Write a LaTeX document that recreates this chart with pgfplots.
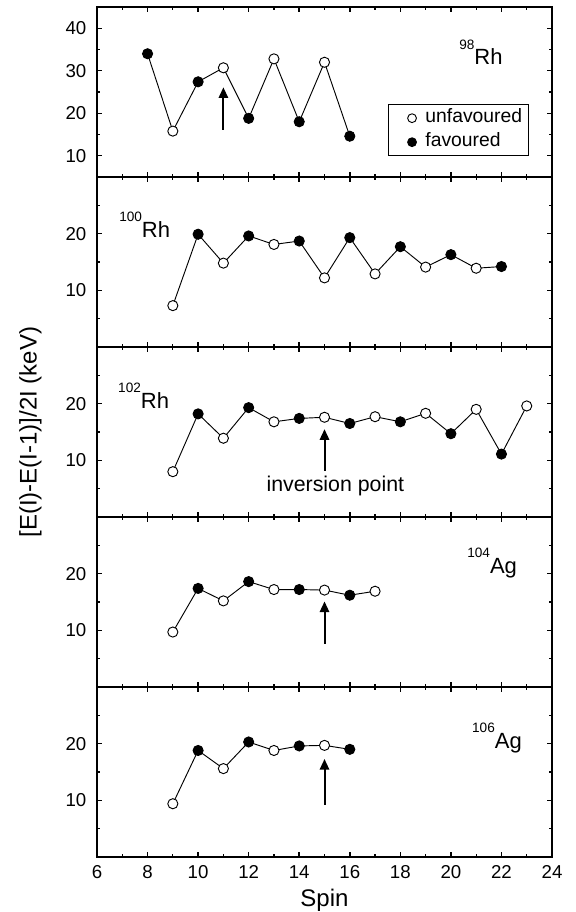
\documentclass[border=0pt]{standalone}
\usepackage{fontspec}
\setmainfont{Liberation Sans}
\usepackage{pgfplots}
\pgfplotsset{compat=1.18}
\usepgfplotslibrary{groupplots}
\usetikzlibrary{arrows.meta}

\newcommand{\iso}[2]{\raisebox{11.5pt}{\fontsize{10.2}{11}\selectfont #1}\fontsize{16.5}{18}\selectfont #2}

\tikzset{arr/.style={line width=1.5pt, -{Triangle[length=8pt,width=7pt]}}}

\pgfplotsset{
  panel/.style={
    width=341.25pt, height=127.5pt, scale only axis,
    xmin=6, xmax=24, xtick={6,8,...,24}, minor xtick={7,9,...,23},
    tick align=inside, major tick length=4pt, minor tick length=2.2pt,
    major tick style={line width=1.1pt, black},
    minor tick style={line width=0.9pt, black},
    axis line style={line width=1.4pt},
    tick label style={font=\fontsize{14}{16}\selectfont},
    xticklabel style={yshift=-3pt},
    yticklabel style={xshift=-4.5pt},
    /pgf/number format/assume math mode=true,
    clip=false,
  },
  conn/.style={black, line width=0.7pt, mark=none, forget plot},
  unf/.style={only marks, mark=*, mark size=3.8pt, mark options={fill=white, draw=black, line width=0.7pt}},
  fav/.style={only marks, mark=*, mark size=3.8pt, mark options={fill=black, draw=black, line width=0.7pt}},
}

\begin{document}
\begin{tikzpicture}
\begin{groupplot}[
  group style={group size=1 by 5, vertical sep=0pt, xticklabels at=edge bottom},
  panel,
]
% ---- 98Rh
\nextgroupplot[ymin=5, ymax=45, ytick={10,20,30,40}, minor ytick={15,25,35},
  legend style={at={(rel axis cs:0.95,0.124)}, anchor=south east, draw=black, line width=0.6pt,
    font=\fontsize{14.5}{16}\selectfont, inner xsep=5pt, inner ysep=1pt,
    nodes={text height=10.5pt, text depth=3.5pt, inner ysep=2pt, inner xsep=0pt},
    column sep=0pt},
  legend cell align=left,
  legend image code/.code={\path[draw=none, fill=none] (-12.55pt,-3.3pt) rectangle (10.05pt,3.3pt);
    \draw[#1, mark size=3.3pt] plot coordinates {(0pt,0pt)};},
]
\addplot[conn] coordinates {(8,34)(9,15.8)(10,27.4)(11,30.7)(12,18.8)(13,32.8)(14,18)(15,32)(16,14.6)};
\addplot[unf] coordinates {(9,15.8)(11,30.7)(13,32.8)(15,32)};
\addlegendentry{unfavoured}
\addplot[fav] coordinates {(8,34)(10,27.4)(12,18.8)(14,18)(16,14.6)};
\addlegendentry{favoured}
\draw[arr] (axis cs:11,16.1) -- (axis cs:11,26.1);
\node[anchor=base west, inner sep=0pt] at (axis cs:20.32,31.5) {\iso{98}{Rh}};
% ---- 100Rh
\nextgroupplot[ymin=0, ymax=30, ytick={10,20}, minor ytick={5,15,25}]
\addplot[conn] coordinates {(9,7.3)(10,19.9)(11,14.8)(12,19.6)(13,18.1)(14,18.7)(15,12.2)(16,19.3)(17,12.9)(18,17.7)(19,14.1)(20,16.3)(21,13.9)(22,14.2)};
\addplot[unf] coordinates {(9,7.3)(11,14.8)(13,18.1)(15,12.2)(17,12.9)(19,14.1)(21,13.9)};
\addplot[fav] coordinates {(10,19.9)(12,19.6)(14,18.7)(16,19.3)(18,17.7)(20,16.3)(22,14.2)};
\node[anchor=base west, inner sep=0pt] at (axis cs:6.87,19.4) {\iso{100}{Rh}};
% ---- 102Rh
\nextgroupplot[ymin=0, ymax=30, ytick={10,20}, minor ytick={5,15,25}]
\addplot[conn] coordinates {(9,8.0)(10,18.2)(11,13.9)(12,19.3)(13,16.8)(14,17.4)(15,17.6)(16,16.5)(17,17.7)(18,16.8)(19,18.3)(20,14.7)(21,19.0)(22,11.1)(23,19.6)};
\addplot[unf] coordinates {(9,8.0)(11,13.9)(13,16.8)(15,17.6)(17,17.7)(19,18.3)(21,19.0)(23,19.6)};
\addplot[fav] coordinates {(10,18.2)(12,19.3)(14,17.4)(16,16.5)(18,16.8)(20,14.7)(22,11.1)};
\draw[arr] (axis cs:15,8.2) -- (axis cs:15,15.5);
\node[anchor=base, inner sep=0pt, font=\fontsize{16}{18}\selectfont] at (axis cs:15.43,4.5) {inversion point};
\node[anchor=base west, inner sep=0pt] at (axis cs:6.83,19.2) {\iso{102}{Rh}};
% ---- 104Ag
\nextgroupplot[ymin=0, ymax=30, ytick={10,20}, minor ytick={5,15,25}]
\addplot[conn] coordinates {(9,9.7)(10,17.4)(11,15.2)(12,18.6)(13,17.2)(14,17.2)(15,17.1)(16,16.2)(17,16.9)};
\addplot[unf] coordinates {(9,9.7)(11,15.2)(13,17.2)(15,17.1)(17,16.9)};
\addplot[fav] coordinates {(10,17.4)(12,18.6)(14,17.2)(16,16.2)};
\draw[arr] (axis cs:15,7.6) -- (axis cs:15,15.1);
\node[anchor=base west, inner sep=0pt] at (axis cs:20.64,20.1) {\iso{104}{Ag}};
% ---- 106Ag
\nextgroupplot[ymin=0, ymax=30, ytick={10,20}, minor ytick={5,15,25}]
\addplot[conn] coordinates {(9,9.4)(10,18.8)(11,15.6)(12,20.3)(13,18.8)(14,19.6)(15,19.7)(16,19.0)};
\addplot[unf] coordinates {(9,9.4)(11,15.6)(13,18.8)(15,19.7)};
\addplot[fav] coordinates {(10,18.8)(12,20.3)(14,19.6)(16,19.0)};
\draw[arr] (axis cs:15,9.2) -- (axis cs:15,17.3);
\node[anchor=base west, inner sep=0pt] at (axis cs:20.83,19.2) {\iso{106}{Ag}};
\end{groupplot}
\node[rotate=90, anchor=center, font=\fontsize{18}{20}\selectfont] at ([xshift=-50pt]group c1r3.west) {[E(I)-E(I-1)]/2I (keV)};
\node[anchor=base, inner sep=0pt, font=\fontsize{18}{20}\selectfont] at ([yshift=-36.75pt]group c1r5.south) {Spin};
\pgfresetboundingbox
\path ([xshift=-72.75pt,yshift=5.25pt]group c1r1.north west) rectangle ([xshift=17.25pt,yshift=-41.25pt]group c1r5.south east);
\end{tikzpicture}
\end{document}
